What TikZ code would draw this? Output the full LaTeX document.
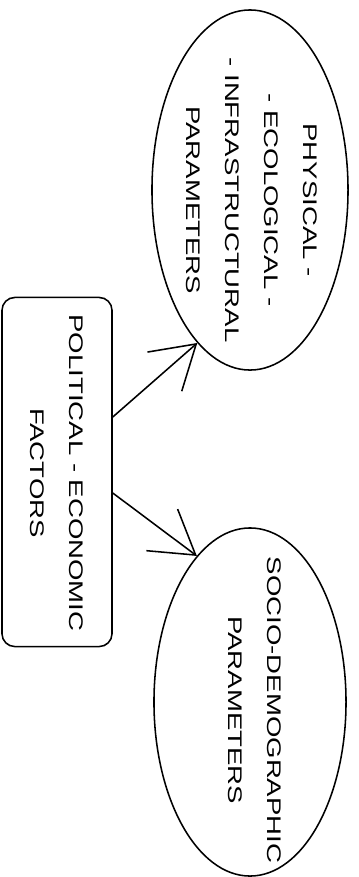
\documentclass[tikz,border=0pt]{standalone}
\usepackage{fontspec}
\setmainfont{Liberation Sans}
\usepackage{tikz}
\usetikzlibrary{positioning,shapes.geometric,arrows.meta}

\tikzset{
  factorbox/.style={draw, line width=1.1pt, rounded corners=0.32cm, inner sep=0pt},
  paramell/.style={draw, line width=1.1pt, ellipse, inner sep=0pt},
  vtext/.style={rotate=-90, xscale=1.4, align=center, inner sep=0pt,
    font=\fontsize{14}{27.7}\selectfont},
  link/.style={line width=1.1pt, -{Straight Barb[length=1.05cm,width=1.3cm]}}
}

\begin{document}
\begin{tikzpicture}[x=0.025cm, y=-0.025cm]
\useasboundingbox (0,0) rectangle (358,877);
% factors box and the two parameter groups
\node[factorbox, minimum width=2.75cm, minimum height=8.725cm] (factors) at (57,472) {};
\node[paramell, minimum width=4.9cm, minimum height=9cm] (physical) at (250,190) {};
\node[paramell, minimum width=4.8cm, minimum height=8.7cm] (socio) at (250,702) {};

\node[vtext] (factorstext) at (57,473) {POLITICAL - ECONOMIC\\FACTORS};
\node[vtext] (physicaltext) at (252,200) {PHYSICAL -\\- ECOLOGICAL -\\- INFRASTRUCTURAL\\PARAMETERS};
\node[vtext] (sociotext) at (255,710) {SOCIO-DEMOGRAPHIC\\PARAMETERS};

% links
\draw[link] ([yshift=1.375cm]factors.east) -- (physical.251);
\draw[link] ([yshift=-0.525cm]factors.east) -- (socio.110.5);
\end{tikzpicture}
\end{document}
